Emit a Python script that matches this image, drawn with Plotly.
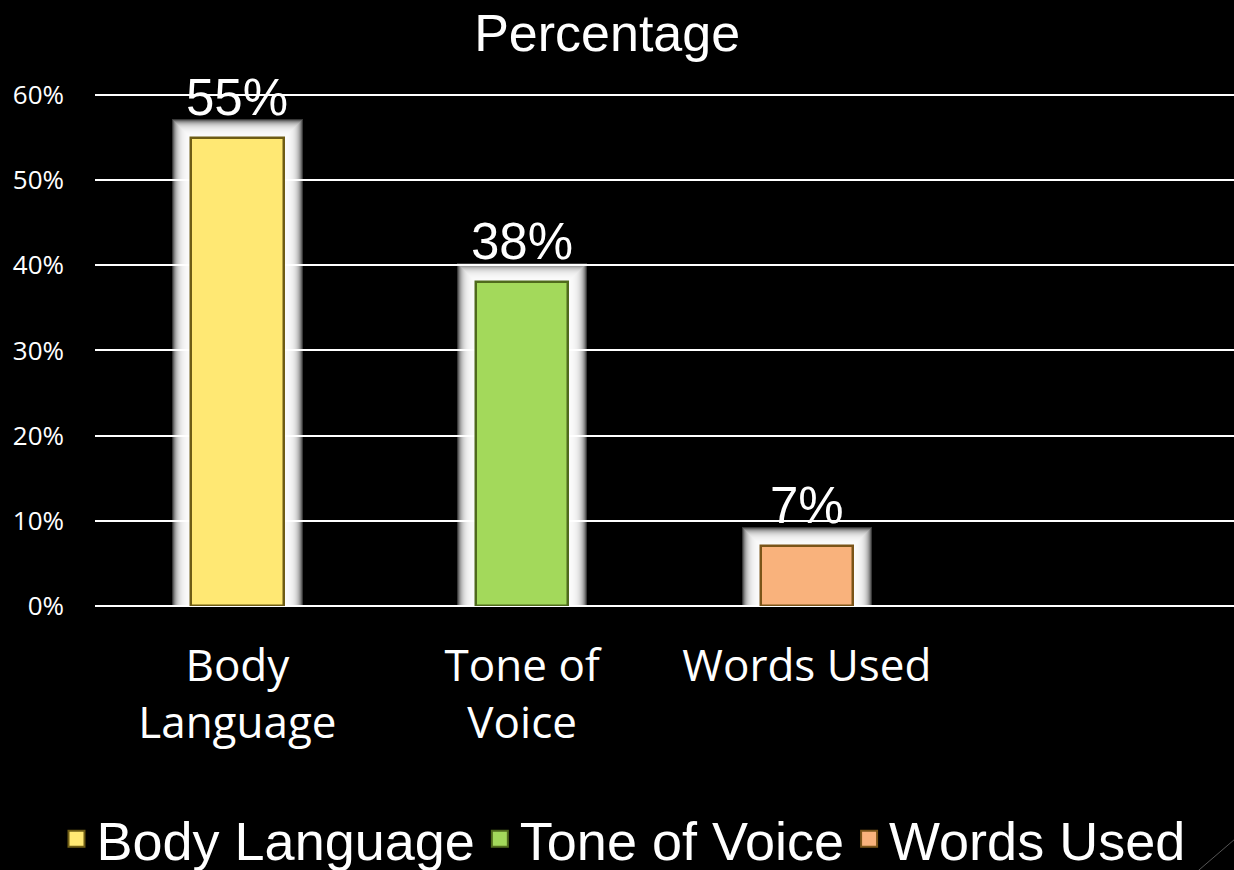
import plotly.graph_objects as go

categories = ["Body<br>Language", "Tone of<br>Voice", "Words Used"]
series_names = ["Body Language", "Tone of Voice", "Words Used"]
values = [0.55, 0.38, 0.07]
colors = ["#FFE873", "#A3D95B", "#F9B27C"]
edge_colors = ["#6E5C14", "#4F6A1C", "#7A5418"]
y_ticks = [0, 0.1, 0.2, 0.3, 0.4, 0.5, 0.6]

PX_PER_CAT = 284.75
PX_PER_UNIT = 851.7
BAR_W = 0.325

fig = go.Figure()

# soft white glow (stacked translucent layers behind each bar)
for k in range(19, 0, -1):
    for cat, v in zip(categories, values):
        fig.add_trace(go.Bar(
            x=[cat], y=[v + k / PX_PER_UNIT], width=BAR_W + 2 * k / PX_PER_CAT,
            marker=dict(color="white", line=dict(width=0)), opacity=0.22,
            showlegend=False, hoverinfo="skip"))

for cat, name, v, c, ec in zip(categories, series_names, values, colors, edge_colors):
    fig.add_trace(go.Bar(
        x=[cat], y=[v], name=name, width=BAR_W, showlegend=False,
        marker=dict(color=c, line=dict(color=ec, width=2.5))))
    fig.add_trace(go.Scatter(
        x=[None], y=[None], name=name, mode="markers",
        marker=dict(symbol="square", size=16, color=c, line=dict(color=ec, width=2))))

for cat, v in zip(categories, values):
    fig.add_annotation(x=cat, y=v, text=f"{round(v*100)}%", showarrow=False,
                       yanchor="bottom", yshift=10,
                       font=dict(family="Liberation Sans", size=51, color="white"))

fig.add_shape(type="line", xref="paper", yref="paper", x0=1.0, y0=-0.455, x1=0.968, y1=-0.516,
              line=dict(color="#555555", width=1))

fig.update_layout(
    width=1234, height=870,
    paper_bgcolor="black", plot_bgcolor="black",
    barmode="overlay", bargap=0,
    margin=dict(l=95, r=0, t=92, b=264, autoexpand=False),
    title=dict(text="Percentage", x=0.492, xanchor="center", y=0.962, yanchor="middle",
               font=dict(family="Liberation Sans", size=52, color="white")),
    xaxis=dict(type="category", range=[-0.5, 3.5], showgrid=False, zeroline=False,
               showline=False, ticks="", tickfont=dict(family="Open Sans", size=44, color="white"),
               ticklabelstandoff=30),
    yaxis=dict(range=[0, 0.6035], tickvals=y_ticks, tickformat=".0%", showgrid=True,
               gridcolor="white", gridwidth=1.5, zeroline=True, zerolinecolor="white",
               zerolinewidth=1.5, ticks="", ticklabelstandoff=30,
               tickfont=dict(family="Open Sans", size=26, color="white")),
    legend=dict(orientation="h", x=0.464, xanchor="center", y=-0.372, yanchor="top",
                font=dict(family="Liberation Sans", size=54, color="white"),
                bgcolor="rgba(0,0,0,0)", itemwidth=30),
    showlegend=True,
)

fig.write_html("out.html", config={"displayModeBar": False},
               post_script="document.body.style.margin='0px';document.body.style.background='black';")
